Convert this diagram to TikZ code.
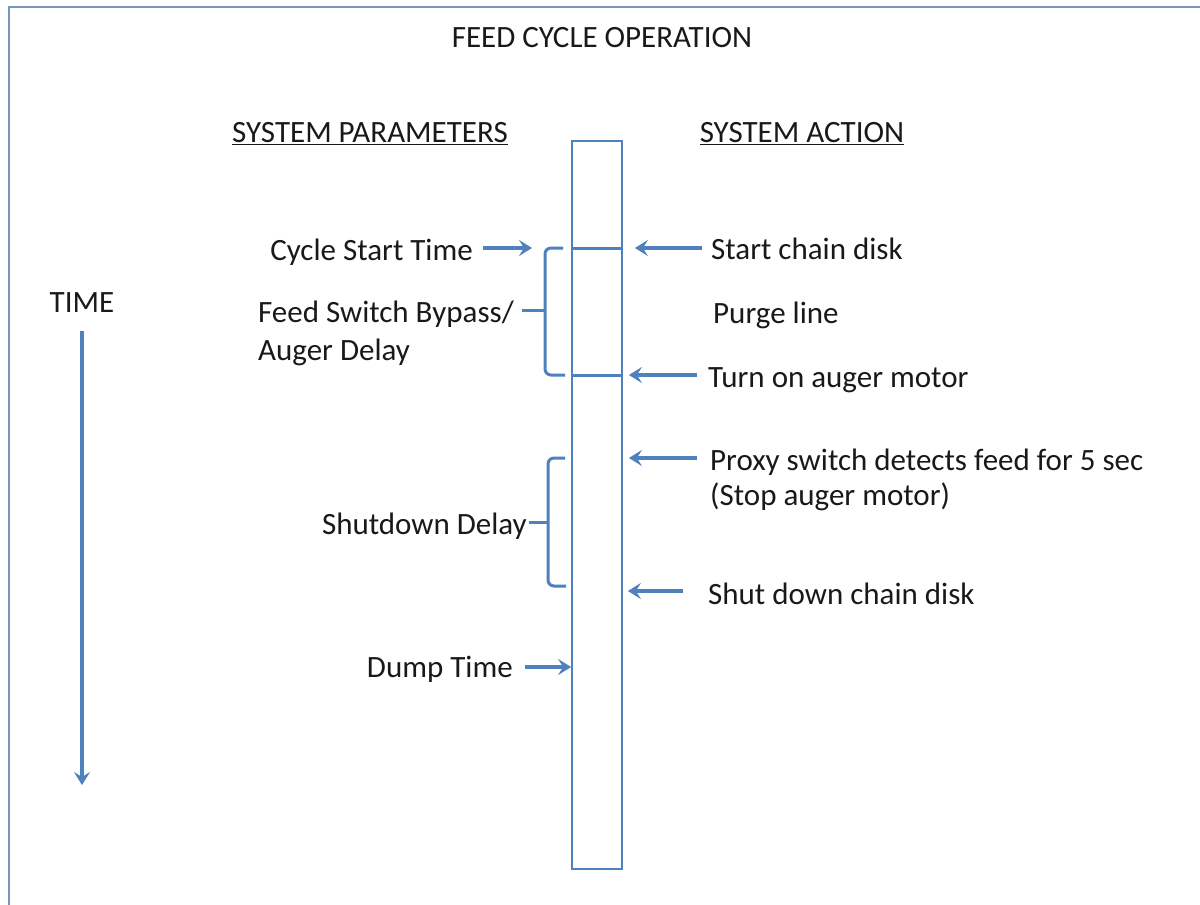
\documentclass[tikz,border=0pt]{standalone}
\usepackage{fontspec}
\setmainfont{Carlito}
\usetikzlibrary{arrows.meta}
\definecolor{lineblue}{RGB}{79,129,189}
\definecolor{frameblue}{RGB}{120,150,190}
\definecolor{txtgray}{RGB}{25,25,25}
\tikzset{
  txt/.style={inner sep=0pt, text=txtgray, font=\fontsize{31}{36}\selectfont},
  arr/.style={draw=lineblue, line width=3.2pt, -{Stealth[length=13pt,width=16pt,inset=5pt]}},
  brk/.style={draw=lineblue, line width=3pt, rounded corners=6pt},
  tick/.style={draw=lineblue, line width=3pt},
  colbox/.style={draw=lineblue, line width=1.8pt, minimum width=50pt, minimum height=728pt, inner sep=0pt},
}
\begin{document}
\begin{tikzpicture}[x=1pt,y=-1pt]
\useasboundingbox (0,0) rectangle (1200,905);
\clip (0,0) rectangle (1200,905);
\fill[white] (0,0) rectangle (1200,905);
% outer frame
\draw[frameblue, line width=2.4pt] (9,930) -- (9,7) -- (1230,7);

% titles
\node[txt] (title) at (602,38) {FEED CYCLE OPERATION};
\node[txt] (params) at (370,134) {\underline{SYSTEM PARAMETERS}};
\node[txt] (action) at (802,134) {\underline{SYSTEM ACTION}};

% column
\node[colbox] (col) at (597,505) {};
\coordinate (s1) at (0,248);
\coordinate (s2) at (0,375);
\draw[tick] (col.west |- s1) -- (col.east |- s1);
\draw[tick] (col.west |- s2) -- (col.east |- s2);

% TIME
\node[txt, anchor=base] (time) at (82,312) {TIME};
\coordinate (timeStart) at (82,331);
\coordinate (timeEnd) at (82,785);
\draw[arr] (timeStart) -- (timeEnd);

% left side
\node[txt, anchor=base east] (cst) at (473,260) {Cycle Start Time};
\coordinate (cstTip) at (532,248);
\draw[arr] ([xshift=10pt]cst.east |- cstTip) -- (cstTip);

\node[txt, anchor=base west] (fsb) at (258,322) {Feed Switch Bypass/};
\node[txt, anchor=base west] (ad) at (258,360) {Auger Delay};
\draw[brk] (563,248) -- (545,248) -- (545,375) -- (565,375);
\coordinate (fsbTick) at (545,310);
\draw[tick] ([xshift=8pt]fsb.east |- fsbTick) -- (fsbTick);

\node[txt, anchor=base east] (sd) at (527,534) {Shutdown Delay};
\draw[brk] (565,458) -- (548,458) -- (548,586) -- (566,586);
\coordinate (sdTick) at (548,522);
\draw[tick] ([xshift=2pt]sd.east |- sdTick) -- (sdTick);

\node[txt, anchor=base east] (dt) at (513,677) {Dump Time};
\coordinate (dtTip) at (col.west |- 0,667);
\draw[arr] ([xshift=12pt]dt.east |- dtTip) -- (dtTip);

% right side
\node[txt, anchor=base west] (scd) at (711,259) {Start chain disk};
\draw[arr] ([xshift=-9pt]scd.west |- s1) -- ([xshift=12pt]col.east |- s1);

\node[txt, anchor=base west] (pl) at (713,323) {Purge line};

\node[txt, anchor=base west] (toa) at (708,387) {Turn on auger motor};
\draw[arr] ([xshift=-11pt]toa.west |- s2) -- ([xshift=6pt]col.east |- s2);

\node[txt, anchor=base west] (psd) at (710,470) {Proxy switch detects feed for 5 sec};
\node[txt, anchor=base west] (sam) at (710,505) {(Stop auger motor)};
\draw[arr] ([xshift=-13pt]psd.west |- 0,458) -- ([xshift=6pt]col.east |- 0,458);

\node[txt, anchor=base west] (sdc) at (708,604) {Shut down chain disk};
\draw[arr] ([xshift=-25pt]sdc.west |- 0,591) -- ([xshift=5pt]col.east |- 0,591);
\end{tikzpicture}
\end{document}
